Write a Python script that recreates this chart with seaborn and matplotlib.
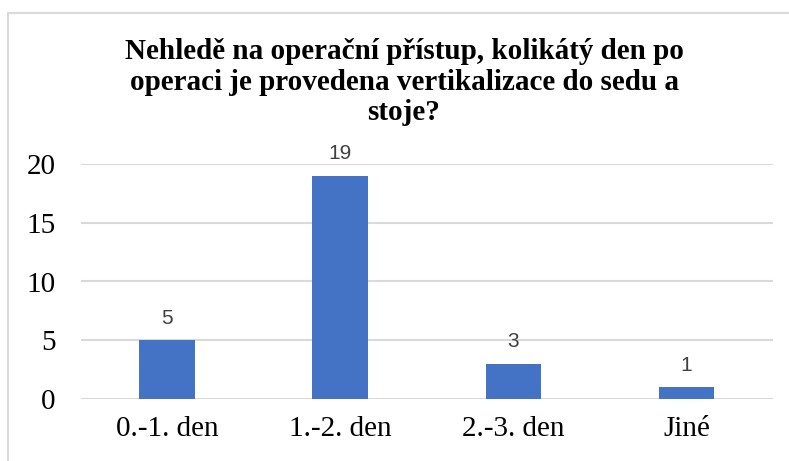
"""bar chart: vertikalizace po operaci"""

import matplotlib.pyplot as plt
import seaborn as sns
import pandas as pd
from matplotlib.patches import Rectangle

categories = ["0.-1. den", "1.-2. den", "2.-3. den", "Jiné"]
counts = [5, 19, 3, 1]
y_ticks = [0, 5, 10, 15, 20]
title = "Nehledě na operační přístup, kolikátý den po\noperaci je provedena vertikalizace do sedu a\nstoje?"

df = pd.DataFrame({"kategorie": categories, "pocet": counts})

sns.set_theme(style="white")
plt.rcParams["font.family"] = ["Liberation Serif", "DejaVu Serif"]

fig = plt.figure(figsize=(7.89, 4.61), dpi=100)
ax = fig.add_axes([80.5 / 789, 1 - 399 / 461, (773 - 80.5) / 789, (399 - 164) / 461])

# chart border (cut off on the right and bottom in the reference)
fig.patches.append(
    Rectangle((8 / 789, -0.1), 1.2, 1 - 13 / 461 + 0.1, transform=fig.transFigure,
              fill=False, edgecolor="#d9d9d9", linewidth=1.5)
)

sns.barplot(data=df, x="kategorie", y="pocet", color="#4472C4", width=0.32,
            saturation=1, linewidth=0, ax=ax, zorder=3)

for i, v in enumerate(counts):
    ax.annotate(str(v), (i, v), xytext=(0, 9), textcoords="offset points",
                ha="center", va="bottom", fontsize=15, color="#404040",
                family=["Liberation Sans", "DejaVu Sans"])

ax.set_ylim(0, 20)
ax.set_yticks(y_ticks)
ax.set_xlim(-0.5, len(categories) - 0.5)
ax.yaxis.grid(True, color="#d9d9d9", linewidth=1.5, zorder=0)
ax.set_axisbelow(True)
sns.despine(ax=ax, left=True, bottom=True, top=True, right=True)
ax.tick_params(axis="both", length=0, labelsize=21, colors="black")
ax.tick_params(axis="y", pad=18)
ax.tick_params(axis="x", pad=12)
ax.set_xlabel("")
ax.set_ylabel("")

fig.text(404 / 789, 1 - 38 / 461, title, ha="center", va="top", fontsize=21,
         fontweight="bold", linespacing=1.17, color="black")

fig.savefig("out.png", dpi=100)
